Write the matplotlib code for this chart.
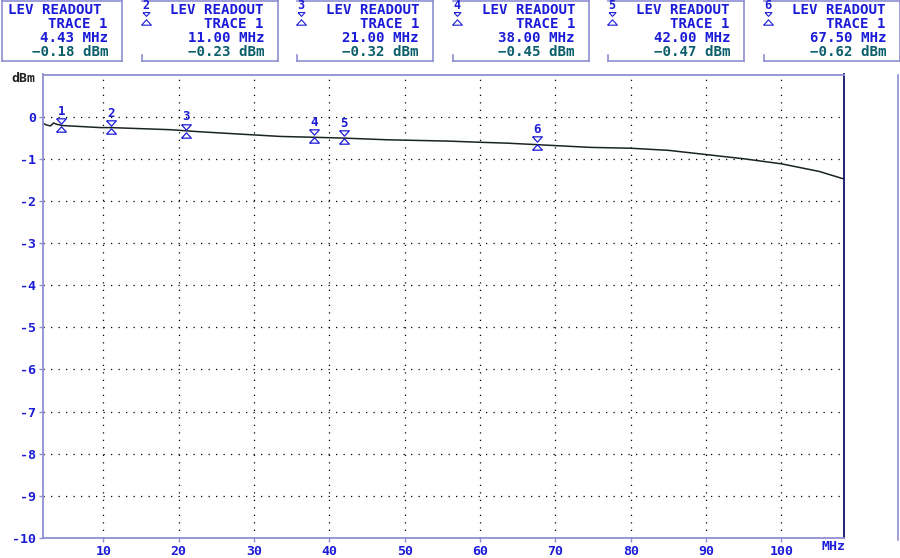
import matplotlib
matplotlib.use('Agg')
import matplotlib.pyplot as plt
from matplotlib.lines import Line2D
from matplotlib.transforms import offset_copy

# trace (MHz, dBm)
trace_freq = [2.0, 2.5, 3.0, 3.4, 3.8, 4.5, 9.6, 11.0, 18.9, 22.9, 33.5, 38.0, 42.0,
              47.8, 55.7, 60.3, 63.7, 70.3, 74.7, 80.0, 85.0, 90.0, 95.0, 100.0,
              105.0, 108.3]
trace_level = [-0.16, -0.20, -0.22, -0.15, -0.18, -0.21, -0.26, -0.26, -0.31, -0.36,
               -0.47, -0.49, -0.51, -0.55, -0.58, -0.61, -0.63, -0.69, -0.73, -0.75,
               -0.80, -0.90, -1.00, -1.12, -1.30, -1.48]

# marker readouts
marker_ids = ['1', '2', '3', '4', '5', '6']
marker_freq = [4.43, 11.00, 21.00, 38.00, 42.00, 67.50]
marker_level = [-0.18, -0.23, -0.32, -0.45, -0.47, -0.62]

x_ticks = [10, 20, 30, 40, 50, 60, 70, 80, 90, 100]
y_ticks = [0, -1, -2, -3, -4, -5, -6, -7, -8, -9, -10]

BLUE = '#1c1cd8'
TEAL = '#0b5f6b'
FRAME = '#8f8fd2'
NAVY = '#12126a'
MONO = 'DejaVu Sans Mono'

# flat open triangles like the analyser's marker glyphs
TRI_DOWN = [(-1, 0.55), (1, 0.55), (0, -0.55), (-1, 0.55)]
TRI_UP = [(-1, -0.55), (1, -0.55), (0, 0.55), (-1, -0.55)]

W, H = 900, 558
fig = plt.figure(figsize=(9, 5.58), dpi=100)
fig.patch.set_facecolor('white')


def fx(px):
    return px / W


def fy(py):
    return 1 - py / H


def fig_line(xs, ys, color=FRAME, lw=1.2):
    fig.add_artist(Line2D([fx(v) for v in xs], [fy(v) for v in ys],
                          color=color, lw=lw, transform=fig.transFigure))


# plot area
ax = fig.add_axes([fx(43), fy(538), fx(844) - fx(43), fy(74.5) - fy(538)])
ax.set_xlim(2, 108.3)
ax.set_ylim(-10, 1)

ax.plot(trace_freq, trace_level, color='#1b2424', lw=1.1)

# marker symbols: open down-triangle above, open up-triangle below, number on top
above = offset_copy(ax.transData, fig=fig, x=0, y=2.6, units='points')
below = offset_copy(ax.transData, fig=fig, x=0, y=-3.4, units='points')
ax.plot(marker_freq, marker_level, linestyle='none', marker=TRI_DOWN, ms=7,
        mfc='none', mec=BLUE, mew=0.9, transform=above, clip_on=False)
ax.plot(marker_freq, marker_level, linestyle='none', marker=TRI_UP, ms=7,
        mfc='none', mec=BLUE, mew=0.9, transform=below, clip_on=False)
for mid, f, lev in zip(marker_ids, marker_freq, marker_level):
    ax.annotate(mid, (f, lev), xytext=(0, 9.5), textcoords='offset points',
                ha='center', va='center', color=BLUE, fontsize=9,
                fontweight='bold', family=MONO)

ax.set_xticks(x_ticks)
ax.set_yticks(y_ticks)
ax.set_xticklabels([str(v) for v in x_ticks])
ax.set_yticklabels([str(v) for v in y_ticks])
ax.grid(True, color='black', linestyle=(0, (1, 5)), lw=0.9)
ax.tick_params(axis='both', colors=FRAME, labelcolor=BLUE, length=3, width=1,
               labelsize=9.5)
ax.tick_params(axis='x', pad=2)
ax.tick_params(axis='y', pad=2)
for lbl in ax.get_xticklabels() + ax.get_yticklabels():
    lbl.set_family(MONO)
    lbl.set_fontweight('bold')

for side in ['left', 'bottom', 'top']:
    ax.spines[side].set_color(FRAME)
    ax.spines[side].set_linewidth(1.3)
ax.spines['right'].set_color(NAVY)
ax.spines['right'].set_linewidth(1.3)

fig.text(fx(11), fy(79), 'dBm', color='#222222', fontsize=9.5, fontweight='bold',
         family=MONO, ha='left', va='center')
fig.text(fx(845), fy(547), 'MHz', color=BLUE, fontsize=9.5, fontweight='bold',
         family=MONO, ha='right', va='center')

# right screen edge line
fig_line([898, 898], [75, 540], color=FRAME)

# readout boxes across the top
box_left = [2, 142, 297, 453, 608, 764]
box_width = [120, 136, 136, 136, 136, 136]
for i, (mid, f, lev) in enumerate(zip(marker_ids, marker_freq, marker_level)):
    left = box_left[i]
    right = left + box_width[i]
    fig_line([left, right], [0.6, 0.6])
    fig_line([right, right], [0, 61])
    fig_line([left, right], [61, 61])
    if i == 0:
        fig_line([left, left], [0, 61])
    else:
        fig_line([left, left], [55, 61])
        fig.text(fx(left + 4), fy(5.5), mid, color=BLUE, fontsize=8.5,
                 fontweight='bold', family=MONO, ha='center', va='center')
        fig.add_artist(Line2D([fx(left + 4)], [fy(14)], marker=TRI_DOWN, ms=5,
                              mfc='none', mec=BLUE, mew=0.8,
                              transform=fig.transFigure))
        fig.add_artist(Line2D([fx(left + 4)], [fy(22)], marker=TRI_UP, ms=7,
                              mfc='none', mec=BLUE, mew=0.8,
                              transform=fig.transFigure))
    tx = fx(right - 14)
    fig.text(fx(left + 6) if i == 0 else tx, fy(9.5), 'LEV READOUT', color=BLUE,
             fontsize=10.2, fontweight='bold', family=MONO,
             ha='left' if i == 0 else 'right', va='center')
    fig.text(tx, fy(23.5), 'TRACE 1', color=BLUE, fontsize=10.2,
             fontweight='bold', family=MONO, ha='right', va='center')
    fig.text(tx, fy(37.5), f'{f:.2f} MHz', color=BLUE, fontsize=10.2,
             fontweight='bold', family=MONO, ha='right', va='center')
    fig.text(tx, fy(51.5), f'{lev:.2f} dBm'.replace('-', '\u2212'), color=TEAL,
             fontsize=10.2, fontweight='bold', family=MONO, ha='right', va='center')

fig.savefig('out.png', dpi=100, facecolor='white')
